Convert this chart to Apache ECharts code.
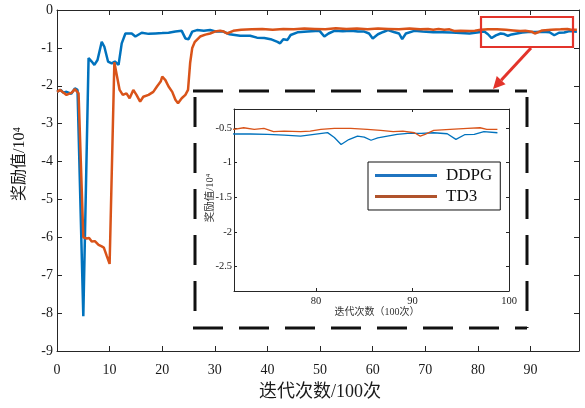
<!DOCTYPE html>
<html>
<head>
<meta charset="utf-8">
<script src="https://cdn.jsdelivr.net/npm/echarts@6/dist/echarts.min.js"></script>
<style>
  html, body { margin: 0; padding: 0; background: #fff; }
  #chart { width: 585px; height: 408px; }
</style>
</head>
<body>
<div id="chart"></div>
<script>
// Reward curves (unit: 10^4) against iteration count (unit: 100 iterations)
const seriesNames = ['DDPG', 'TD3'];

const ddpgX = [0, 0.7, 1.2, 1.8, 2.7, 3.4, 3.9, 4.2, 5.0, 6.0, 6.6, 7.1, 7.7, 8.5, 9.0, 9.7, 10.4, 11.0, 11.7,
  12.3, 13.0, 14.2, 14.9, 16.1, 17.4, 18.7, 20.0, 21.2, 22.5, 23.7, 24.4, 25.0, 25.7, 26.6, 27.9, 29.1,
  30.3, 31.6, 32.8, 34.8, 36.7, 38.0, 39.4, 40.6, 41.9, 42.4, 43.0, 43.8, 44.4, 45.7, 47.6, 49.9, 50.8,
  51.6, 52.7, 54.3, 55.9, 57.2, 58.4, 59.3, 60.0, 61.0, 62.0, 62.9, 64.0, 65.0, 65.6, 66.3, 67.9, 69.5,
  71.5, 73.2, 75.0, 76.7, 78.4, 79.8, 81.2, 81.9, 82.6, 83.4, 84.3, 85.0, 85.7, 86.4, 87.4, 88.4, 89.5,
  90.9, 92.2, 93.6, 94.5, 95.4, 96.4, 97.4, 98.8];
const ddpgY = [-2.16, -2.11, -2.18, -2.16, -2.21, -2.07, -2.11, -2.15, -8.08, -1.27, -1.36, -1.45, -1.32, -0.84, -0.97, -1.36, -1.41, -1.36, -1.45,
  -0.88, -0.62, -0.62, -0.70, -0.60, -0.63, -0.62, -0.61, -0.60, -0.57, -0.55, -0.75, -0.77, -0.57, -0.53, -0.55, -0.53,
  -0.57, -0.57, -0.64, -0.68, -0.68, -0.73, -0.74, -0.77, -0.84, -0.88, -0.77, -0.79, -0.66, -0.59, -0.57, -0.55, -0.70,
  -0.62, -0.55, -0.56, -0.55, -0.57, -0.57, -0.62, -0.75, -0.64, -0.58, -0.53, -0.58, -0.62, -0.77, -0.62, -0.55, -0.57,
  -0.59, -0.59, -0.595, -0.605, -0.62, -0.595, -0.57, -0.64, -0.74, -0.67, -0.62, -0.634, -0.68, -0.645, -0.62, -0.595, -0.58,
  -0.58, -0.572, -0.586, -0.667, -0.60, -0.595, -0.557, -0.572];

const td3X = [0, 0.6, 1.2, 1.8, 2.8, 3.4, 3.7, 4.1, 5.0, 5.65, 6.1, 6.6, 7.2, 7.9, 8.5, 8.9, 9.45, 10.0, 10.9, 11.4,
  11.9, 12.5, 13.2, 13.8, 14.5, 15.1, 15.8, 16.4, 17.4, 18.3, 19.0, 19.7, 20.0, 20.6, 21.2, 21.9, 22.5, 23.0,
  23.7, 24.4, 24.9, 25.3, 25.7, 26.2, 27.2, 28.2, 29.1, 30.0, 31.0, 31.7, 32.3, 33.5, 35.0, 37.0, 39.0, 41.0,
  43.0, 45.0, 47.0, 49.0, 51.0, 53.0, 55.0, 57.0, 59.0, 61.0, 63.0, 65.0, 67.0, 69.0, 70.5,
  71.5, 72.5, 73.6, 74.6, 75.6, 76.7, 78.4, 79.4, 80.5, 81.9, 83.6, 85.3, 86.7, 88.0, 89.0, 90.2, 90.8, 91.3,
  92.2, 93.9, 95.7, 97.0, 97.7, 98.8];
const td3Y = [-2.16, -2.11, -2.18, -2.24, -2.18, -2.09, -2.11, -2.20, -6.00, -6.03, -6.02, -6.11, -6.10, -6.20, -6.24, -6.27, -6.49, -6.70, -1.38, -1.75,
  -2.11, -2.24, -2.20, -2.33, -2.11, -2.24, -2.42, -2.29, -2.24, -2.16, -2.02, -1.89, -1.76, -1.85, -2.02, -2.16, -2.37, -2.46,
  -2.33, -2.24, -2.11, -1.40, -1.00, -0.84, -0.70, -0.65, -0.62, -0.57, -0.55, -0.57, -0.62, -0.55, -0.52, -0.51, -0.50, -0.52,
  -0.50, -0.51, -0.49, -0.50, -0.51, -0.48, -0.50, -0.49, -0.51, -0.49, -0.50, -0.51, -0.49, -0.51, -0.50,
  -0.523, -0.50, -0.523, -0.51, -0.557, -0.548, -0.557, -0.548, -0.523, -0.51, -0.51, -0.523, -0.538, -0.557, -0.548, -0.572, -0.62, -0.595,
  -0.538, -0.523, -0.51, -0.50, -0.523, -0.523];

// Axis extents and tick values
const mainXRange = [0, 99.2];
const mainYRange = [-9, 0];
const mainXTicks = [0, 10, 20, 30, 40, 50, 60, 70, 80, 90];
const mainYTicks = [0, -1, -2, -3, -4, -5, -6, -7, -8, -9];
const zoomXRange = [71.5, 100];
const zoomYRange = [-2.85, -0.23];
const zoomXTicks = [80, 90, 100];
const zoomYTicks = [-0.5, -1, -1.5, -2, -2.5];

const mainYName = '奖励值/10⁴';
const mainXName = '迭代次数/100次';
const zoomYName = '奖励值/10⁴';
const zoomXName = '迭代次数（100次）';

const colors = { DDPG: '#0072BD', TD3: '#D95319' };
const serif = '"Liberation Serif", "DejaVu Serif", "Noto Sans CJK SC", serif';
const axisColor = '#262626';

const pairs = (xs, ys) => xs.map((x, i) => [x, ys[i]]);

function makeAxis(opts) {
  const { grid, pos, range, ticks, labels, fontSize, tickLen, margin } = opts;
  return {
    type: 'value',
    gridIndex: grid,
    position: pos,
    min: range[0],
    max: range[1],
    splitLine: { show: false },
    axisLine: { show: true, onZero: false, lineStyle: { color: axisColor, width: 1 } },
    axisTick: { show: true, inside: true, length: tickLen, customValues: ticks, lineStyle: { color: axisColor } },
    axisLabel: {
      show: labels,
      customValues: ticks,
      margin: margin,
      fontFamily: serif,
      fontSize: fontSize,
      color: '#1a1a1a',
      formatter: v => String(v)
    }
  };
}

// Arrow from the highlighted region to the zoomed view
const arrowFrom = [531, 48];
const arrowTip = [493, 89];
const headLen = 12, headHalf = 6;
const dx = arrowTip[0] - arrowFrom[0], dy = arrowTip[1] - arrowFrom[1];
const dl = Math.hypot(dx, dy);
const ux = dx / dl, uy = dy / dl;
const baseC = [arrowTip[0] - ux * headLen, arrowTip[1] - uy * headLen];
const arrowHead = [
  arrowTip,
  [baseC[0] - uy * headHalf, baseC[1] + ux * headHalf],
  [baseC[0] + uy * headHalf, baseC[1] - ux * headHalf]
];

const dashStyle = { stroke: '#111', lineWidth: 3, lineDash: [30, 16] };
const box = { l: 195, t: 91, r: 527, b: 328 };

const chart = echarts.init(document.getElementById('chart'), null, { renderer: 'canvas' });

chart.setOption({
  backgroundColor: '#fff',
  animation: false,
  grid: [
    { left: 57, top: 10, width: 522, height: 341, containLabel: false },
    { left: 234, top: 109, width: 275, height: 182, containLabel: false, show: true, backgroundColor: '#fff', borderWidth: 0 }
  ],
  xAxis: [
    makeAxis({ grid: 0, pos: 'bottom', range: mainXRange, ticks: mainXTicks, labels: true, fontSize: 14, tickLen: 5, margin: 12 }),
    makeAxis({ grid: 0, pos: 'top', range: mainXRange, ticks: mainXTicks, labels: false, fontSize: 14, tickLen: 5, margin: 8 }),
    makeAxis({ grid: 1, pos: 'bottom', range: zoomXRange, ticks: zoomXTicks, labels: true, fontSize: 10.5, tickLen: 3, margin: 5 }),
    makeAxis({ grid: 1, pos: 'top', range: zoomXRange, ticks: zoomXTicks.slice(0, 2), labels: false, fontSize: 10.5, tickLen: 3, margin: 5 })
  ],
  yAxis: [
    makeAxis({ grid: 0, pos: 'left', range: mainYRange, ticks: mainYTicks, labels: true, fontSize: 14, tickLen: 5, margin: 4 }),
    makeAxis({ grid: 0, pos: 'right', range: mainYRange, ticks: mainYTicks, labels: false, fontSize: 14, tickLen: 5, margin: 4 }),
    makeAxis({ grid: 1, pos: 'left', range: zoomYRange, ticks: zoomYTicks, labels: true, fontSize: 10.5, tickLen: 3, margin: 2 }),
    makeAxis({ grid: 1, pos: 'right', range: zoomYRange, ticks: zoomYTicks, labels: false, fontSize: 10.5, tickLen: 3, margin: 2 })
  ],
  legend: {
    orient: 'vertical',
    left: 368,
    top: 162,
    padding: [5, 8, 5, 7],
    itemWidth: 62,
    itemHeight: 3,
    itemGap: 4,
    icon: 'rect',
    selectedMode: false,
    borderColor: '#111',
    borderWidth: 1,
    borderRadius: 0,
    backgroundColor: '#fff',
    z: 20,
    textStyle: { fontFamily: serif, fontSize: 17, color: '#111', padding: [0, 0, 0, 4] },
    data: [
      { name: seriesNames[0], itemStyle: { color: '#1f74c0' } },
      { name: seriesNames[1], itemStyle: { color: '#b0532c' } }
    ]
  },
  series: [
    { name: seriesNames[0], type: 'line', xAxisIndex: 0, yAxisIndex: 0, data: pairs(ddpgX, ddpgY),
      showSymbol: false, symbol: 'none', clip: true, lineStyle: { color: colors.DDPG, width: 2.5 }, itemStyle: { color: colors.DDPG } },
    { name: seriesNames[1], type: 'line', xAxisIndex: 0, yAxisIndex: 0, data: pairs(td3X, td3Y),
      showSymbol: false, symbol: 'none', clip: true, lineStyle: { color: colors.TD3, width: 2.5 }, itemStyle: { color: colors.TD3 } },
    { name: seriesNames[0], type: 'line', xAxisIndex: 2, yAxisIndex: 2, data: pairs(ddpgX, ddpgY),
      showSymbol: false, symbol: 'none', clip: true, lineStyle: { color: colors.DDPG, width: 1.3 }, itemStyle: { color: colors.DDPG } },
    { name: seriesNames[1], type: 'line', xAxisIndex: 2, yAxisIndex: 2, data: pairs(td3X, td3Y),
      showSymbol: false, symbol: 'none', clip: true, lineStyle: { color: colors.TD3, width: 1.3 }, itemStyle: { color: colors.TD3 } }
  ],
  graphic: [
    // axis titles
    { type: 'text', x: 20, y: 164, rotation: Math.PI / 2, z: 10,
      style: { text: mainYName, font: '16px ' + serif, fill: '#1a1a1a', align: 'center', verticalAlign: 'middle' } },
    { type: 'text', x: 320, y: 392, z: 10,
      style: { text: mainXName, font: '18px ' + serif, fill: '#1a1a1a', align: 'center', verticalAlign: 'middle' } },
    { type: 'text', x: 210, y: 198, rotation: Math.PI / 2, z: 10,
      style: { text: zoomYName, font: '10.5px ' + serif, fill: '#333', align: 'center', verticalAlign: 'middle' } },
    { type: 'text', x: 377, y: 312, z: 10,
      style: { text: zoomXName, font: '10px ' + serif, fill: '#333', align: 'center', verticalAlign: 'middle' } },
    // dashed frame around the zoomed view
    { type: 'line', z: 5, shape: { x1: box.l - 2, y1: box.t, x2: box.r, y2: box.t }, style: dashStyle },
    { type: 'line', z: 5, shape: { x1: box.l - 2, y1: box.b, x2: box.r, y2: box.b }, style: dashStyle },
    { type: 'line', z: 5, shape: { x1: box.l, y1: box.t + 6, x2: box.l, y2: box.b }, style: dashStyle },
    { type: 'line', z: 5, shape: { x1: box.r, y1: box.t + 6, x2: box.r, y2: box.b }, style: dashStyle },
    // highlighted region and arrow
    { type: 'rect', z: 12, shape: { x: 481, y: 17, width: 92, height: 30 },
      style: { fill: 'none', stroke: '#e3342b', lineWidth: 2.2 } },
    { type: 'line', z: 12, shape: { x1: arrowFrom[0], y1: arrowFrom[1], x2: baseC[0], y2: baseC[1] },
      style: { stroke: '#e3342b', lineWidth: 3 } },
    { type: 'polygon', z: 12, shape: { points: arrowHead }, style: { fill: '#e3342b' } }
  ]
});
</script>
</body>
</html>
